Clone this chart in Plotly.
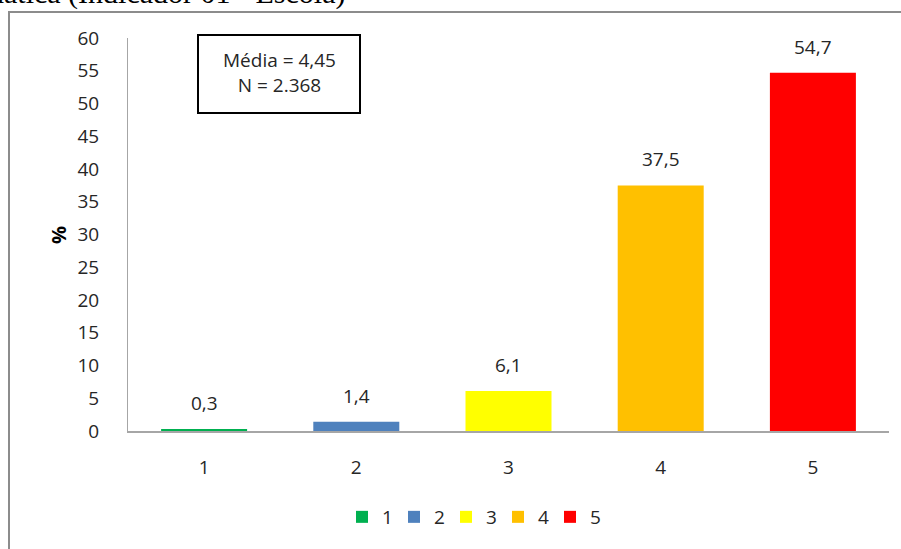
import plotly.graph_objects as go

categories = [1, 2, 3, 4, 5]
values = [0.3, 1.4, 6.1, 37.5, 54.7]
value_labels = ["0,3", "1,4", "6,1", "37,5", "54,7"]
colors = ["#00B050", "#4F81BD", "#FFFF00", "#FFC000", "#FF0000"]
y_ticks = list(range(0, 61, 5))
title_text = "Matemática (Indicador 01 - Escola)"
stats_text = "Média = 4,45<br>N = 2.368"

FONT = "Open Sans"
W, H = 901, 549
L, R, T, B = 128, 12, 38, 118
PW = W - L - R
PH = H - T - B

def px_x(p):
    return (p - L) / PW

def px_y(p):
    return (H - B - p) / PH

fig = go.Figure()
for cat, val, col in zip(categories, values, colors):
    fig.add_trace(go.Bar(x=[cat], y=[val], name=str(cat), marker=dict(color=col, line=dict(width=0)),
                         width=0.565, showlegend=True))

for cat, val, lab in zip(categories, values, value_labels):
    fig.add_annotation(x=cat, y=val, text=lab, showarrow=False, yanchor="bottom", yshift=11,
                       font=dict(family=FONT, size=19, color="#262626"))

# title (cropped at top)
fig.add_annotation(xref="paper", yref="paper", x=px_x(347), y=px_y(12), xanchor="right", yanchor="bottom",
                   text=title_text, showarrow=False,
                   font=dict(family="Liberation Serif", size=30, color="#000000"))

# stats box
fig.add_shape(type="rect", xref="paper", yref="paper", x0=px_x(198), x1=px_x(360), y0=px_y(113), y1=px_y(35),
              line=dict(color="#000000", width=2), fillcolor="rgba(0,0,0,0)")
fig.add_annotation(xref="paper", yref="paper", x=px_x(279), y=px_y(73), text=stats_text, showarrow=False,
                   xanchor="center", yanchor="middle",
                   font=dict(family=FONT, size=19, color="#262626"))

# y title
fig.add_annotation(xref="paper", yref="paper", x=px_x(58), y=px_y(235), text="<b>%</b>", showarrow=False,
                   textangle=-90, xanchor="center", yanchor="middle",
                   font=dict(family=FONT, size=20, color="#000000"))

# outer chart border
fig.add_shape(type="rect", xref="paper", yref="paper", x0=px_x(9), x1=px_x(960), y0=px_y(620), y1=px_y(12),
              line=dict(color="#8C8C8C", width=2), fillcolor="rgba(0,0,0,0)", layer="below")

fig.update_layout(
    width=W, height=H,
    margin=dict(l=L, r=R, t=T, b=B, pad=0),
    paper_bgcolor="white", plot_bgcolor="white",
    barmode="overlay",
    font=dict(family=FONT, size=19, color="#262626"),
    showlegend=True,
    legend=dict(orientation="h", x=px_x(472), y=px_y(517), xanchor="center", yanchor="middle",
                font=dict(family=FONT, size=19, color="#262626"), itemwidth=30,
                entrywidth=7, entrywidthmode="pixels",
                bgcolor="rgba(0,0,0,0)"),
    xaxis=dict(range=[0.5, 5.5], tickvals=categories, ticktext=[str(c) for c in categories],
               showline=True, linecolor="#A6A6A6", linewidth=2, showgrid=False,
               ticks="", ticklabelstandoff=18, zeroline=False),
    yaxis=dict(range=[0, 60], tickvals=y_ticks, showline=True, linecolor="#A6A6A6", linewidth=1,
               showgrid=False, zeroline=False, ticks="", ticklabelstandoff=24),
)

fig.write_html("out.html")
